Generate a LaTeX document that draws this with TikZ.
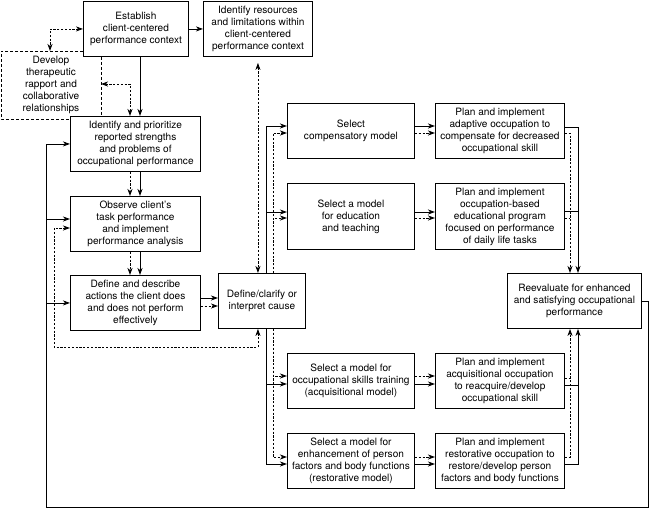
\documentclass[tikz,border=0pt]{standalone}
\usepackage{fontspec}
\setmainfont{TeX Gyre Heros}
\usetikzlibrary{arrows.meta}
\begin{document}
\begin{tikzpicture}[x=1pt,y=-1pt,
  >={Stealth[length=7pt,width=5pt,inset=2pt]},
  box/.style={draw,line width=0.9pt,fill=white,inner sep=0pt,align=center,anchor=north west,font=\fontsize{10.1}{12}\selectfont},
  ln/.style={line width=0.9pt},
  dt/.style={line width=0.9pt,dash pattern=on 2.2pt off 1.6pt},
  frm/.style={line width=0.9pt,dash pattern=on 3pt off 2pt}]
\useasboundingbox (0,0) rectangle (650,509);
% nodes
\node[box,minimum width=105pt,minimum height=55pt] (est) at (83,1) {Establish\\client-centered\\performance context};
\node[box,minimum width=109pt,minimum height=55pt] (res) at (203,1) {Identify resources\\and limitations within\\client-centered\\performance context};
\node[align=center,inner sep=0pt,font=\fontsize{10.1}{12}\selectfont] (dev) at (51,85) {Develop\\therapeutic\\rapport and\\collaborative\\relationships};
\node[box,minimum width=130pt,minimum height=55pt] (idp) at (70,116) {Identify and prioritize\\reported strengths\\and problems of\\occupational performance};
\node[box,minimum width=130pt,minimum height=55pt] (obs) at (70,196) {Observe client's\\task performance\\and implement\\performance analysis};
\node[box,minimum width=130pt,minimum height=55pt] (dad) at (70,275) {Define and describe\\actions the client does\\and does not perform\\effectively};
\node[box,minimum width=87pt,minimum height=55pt] (dcl) at (218,273) {Define/clarify or\\interpret cause};
\node[box,minimum width=127pt,minimum height=55pt] (com) at (287,103) {Select\\compensatory model};
\node[box,minimum width=127pt,minimum height=66pt] (edu) at (287,183) {Select a model\\for education\\and teaching};
\node[box,minimum width=129pt,minimum height=55pt] (pad) at (435,103) {Plan and implement\\adaptive occupation to\\compensate for decreased\\occupational skill};
\node[box,minimum width=129pt,minimum height=66pt] (ped) at (435,183) {Plan and implement\\occupation-based\\educational program\\focused on performance\\of daily life tasks};
\node[box,minimum width=134pt,minimum height=55pt] (rev) at (507,273) {Reevaluate for enhanced\\and satisfying occupational\\performance};
\node[box,minimum width=127pt,minimum height=55pt] (acq) at (287,353) {Select a model for\\occupational skills training\\(acquisitional model)};
\node[box,minimum width=127pt,minimum height=55pt] (rst) at (287,433) {Select a model for\\enhancement of person\\factors and body functions\\(restorative model)};
\node[box,minimum width=129pt,minimum height=55pt] (pac) at (435,353) {Plan and implement\\acquisitional occupation\\to reacquire/develop\\occupational skill};
\node[box,minimum width=129pt,minimum height=55pt] (prs) at (435,433) {Plan and implement\\restorative occupation to\\restore/develop person\\factors and body functions};
% helper coordinates
\coordinate (xA) at (130,0);
\coordinate (xB) at (140,0);
\coordinate (xS) at (266,0);
\coordinate (xD) at (273,0);
\coordinate (xRd) at (570,0);
\coordinate (xRs) at (578,0);
\coordinate (xL) at (46,0);
\coordinate (xLd) at (54,0);
\coordinate (xR) at (648,0);
\coordinate (yBot) at (0,507);
\coordinate (yDot) at (0,347);
% develop frame
\draw[frm] (est.west |- 0,51) -- (1,51) -- (1,119) -- (idp.west |- 0,119);
\draw[frm] (est.south -| 101,0) -- (idp.north -| 101,0);
\draw[dt,<->] (est.west) -| (50,51);
\draw[dt,<->] (101,84) -| (idp.north -| xA);
% top
\draw[ln,->] (est.east) -- (res.west);
\draw[ln,->] (est.south -| xB) -- (idp.north -| xB);
% left column
\draw[ln,->] (idp.south -| xB) -- (obs.north -| xB);
\draw[dt,->] (idp.south -| xA) -- (obs.north -| xA);
\draw[ln,->] (obs.south -| xB) -- (dad.north -| xB);
\draw[dt,->] (obs.south -| xA) -- (dad.north -| xA);
\draw[ln,->] (dad.east |- 0,298) -- (dcl.west |- 0,298);
\draw[dt,->] (dad.east |- 0,306) -- (dcl.west |- 0,306);
% resources <-> cause
\draw[dt,<->,shorten <=6pt] (res.south) -- (res.south |- dcl.north);
% dotted feedback
\draw[dt,<->] (obs.west |- 0,228) -- (xLd |- 0,228) -- (xLd |- yDot) -| (dcl.south -| res.south);
% solid feedback
\draw[ln,->] (rev.east) -- (xR |- rev.east) -- (xR |- yBot) -- (xL |- yBot) |- (idp.west);
\draw[ln,->] (xL |- 0,219) -- (obs.west |- 0,219);
\draw[ln,->] (xL |- dad.west) -- (dad.west);
% center buses
\draw[ln,->] (dcl.north -| xS) |- (com.west |- 0,126);
\draw[ln,->] (dcl.north -| xS) |- (edu.west |- 0,212);
\draw[ln,->] (dcl.south -| xS) |- (acq.west |- 0,384);
\draw[ln,->] (dcl.south -| xS) |- (rst.west |- 0,464);
\draw[dt,->] (dcl.north -| xD) |- (com.west |- 0,133);
\draw[dt,->] (dcl.north -| xD) |- (edu.west |- 0,218);
\draw[dt,->] (dcl.south -| xD) |- (acq.west |- 0,376);
\draw[dt,->] (dcl.south -| xD) |- (rst.west |- 0,457);
% middle arrows
\draw[ln,->] (com.east |- 0,126) -- (pad.west |- 0,126);
\draw[dt,->] (com.east |- 0,133) -- (pad.west |- 0,133);
\draw[ln,->] (edu.east |- 0,212) -- (ped.west |- 0,212);
\draw[dt,->] (edu.east |- 0,218) -- (ped.west |- 0,218);
\draw[dt,->] (acq.east |- 0,376) -- (pac.west |- 0,376);
\draw[ln,->] (acq.east |- 0,384) -- (pac.west |- 0,384);
\draw[dt,->] (rst.east |- 0,457) -- (prs.west |- 0,457);
\draw[ln,->] (rst.east |- 0,464) -- (prs.west |- 0,464);
% right buses
\draw[ln,->] (pad.east |- 0,127) -| (rev.north -| xRs);
\draw[ln] (ped.east |- 0,211) -- (xRs |- 0,211);
\draw[dt,->] (pad.east |- 0,133) -| (rev.north -| xRd);
\draw[dt] (ped.east |- 0,218) -- (xRd |- 0,218);
\draw[ln,->] (prs.east |- 0,464) -| (rev.south -| xRs);
\draw[ln] (pac.east |- 0,385) -- (xRs |- 0,385);
\draw[dt,->] (prs.east |- 0,457) -| (rev.south -| xRd);
\draw[dt] (pac.east |- 0,378) -- (xRd |- 0,378);
\end{tikzpicture}
\end{document}
